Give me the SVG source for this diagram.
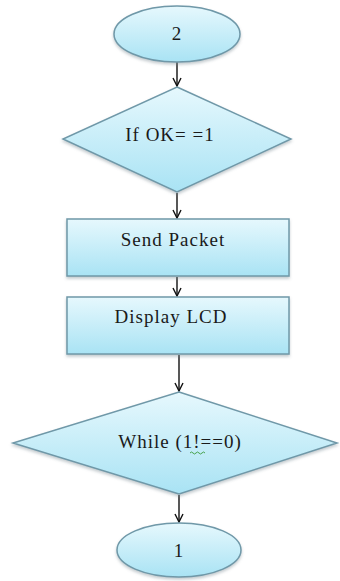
<svg xmlns="http://www.w3.org/2000/svg" width="340" height="581" viewBox="0 0 340 581">
  <style>
    .shape { fill: url(#fillGrad); stroke: #6f98a8; stroke-width: 1.5; filter: url(#shadow); }
    .label { font-family: "Liberation Serif", "Times New Roman", serif; font-size: 19px; letter-spacing: 1px; fill: #1a1a1a; text-anchor: middle; }
    .link { stroke: #111; stroke-width: 1.4; fill: none; marker-end: url(#arrow); }
  </style>
  <defs>
    <linearGradient id="fillGrad" x1="0" y1="0" x2="0" y2="1">
      <stop offset="0" stop-color="#e6f8fd"/>
      <stop offset="1" stop-color="#a9e3f4"/>
    </linearGradient>
    <filter id="shadow" x="-10%" y="-10%" width="120%" height="130%">
      <feDropShadow dx="0" dy="2" stdDeviation="1.5" flood-color="#7a8c94" flood-opacity="0.45"/>
    </filter>
    <marker id="arrow" viewBox="0 0 10 10" refX="9" refY="5" markerWidth="10" markerHeight="10" orient="auto" markerUnits="userSpaceOnUse">
      <path d="M1,1 L9,5 L1,9" fill="none" stroke="#111" stroke-width="1.4"/>
    </marker>
  </defs>

  <g id="connectors">
    <line class="link" x1="177" y1="62" x2="177" y2="86"/>
    <line class="link" x1="177" y1="193" x2="177" y2="218"/>
    <line class="link" x1="177" y1="277" x2="177" y2="296"/>
    <line class="link" x1="179" y1="355" x2="179" y2="391"/>
    <line class="link" x1="179" y1="495" x2="179" y2="522"/>
  </g>

  <g id="start2">
    <ellipse class="shape" cx="177" cy="34" rx="63" ry="28"/>
    <text class="label" x="177" y="40">2</text>
  </g>

  <g id="ifOk">
    <polygon class="shape" points="177,87 291,139 177,192 63,139"/>
    <text class="label" x="170" y="141">If OK= =1</text>
  </g>

  <g id="sendPacket">
    <rect class="shape" x="67" y="219" width="222" height="57"/>
    <text class="label" x="173" y="246">Send Packet</text>
  </g>

  <g id="displayLcd">
    <rect class="shape" x="67" y="297" width="222" height="57"/>
    <text class="label" x="171" y="323">Display LCD</text>
  </g>

  <g id="whileLoop">
    <polygon class="shape" points="179,392 337,443 179,494 13,443"/>
    <text class="label" x="180" y="448">While (1!==0)</text>
    <path d="M190,453 q1.5,-2 3,0 t3,0 t3,0 t3,0 t3,0" fill="none" stroke="#3a9a3a" stroke-width="0.9"/>
  </g>

  <g id="end1">
    <ellipse class="shape" cx="179" cy="550" rx="62" ry="27"/>
    <text class="label" x="179" y="557">1</text>
  </g>
</svg>
